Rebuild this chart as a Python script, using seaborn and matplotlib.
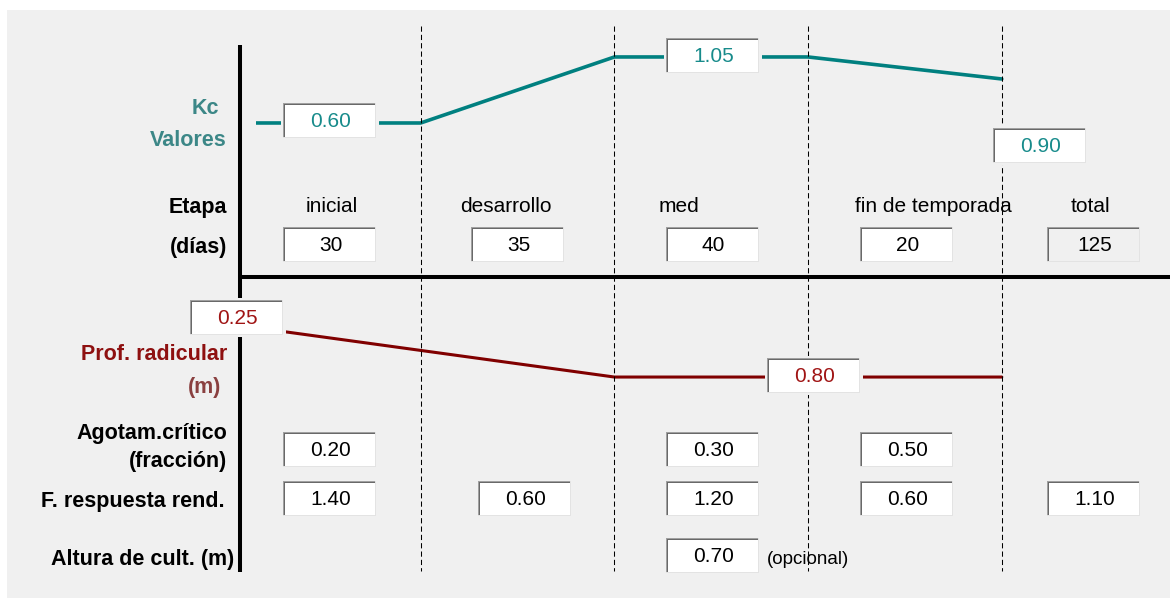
import matplotlib
matplotlib.use("Agg")
import matplotlib.pyplot as plt
from matplotlib.patches import Rectangle
import numpy as np
import pandas as pd
import seaborn as sns

# ---------------- data ----------------
stages = ["inicial", "desarrollo", "med", "fin de temporada"]
stage_days = [30, 35, 40, 20]
total_label = "total"
kc_values = [0.60, 1.05, 0.90]          # Kc ini, Kc med, Kc fin
root_depth = [0.25, 0.80]               # prof. radicular inicial / máxima (m)
depletion = [0.20, None, 0.30, 0.50]    # agotamiento crítico por etapa
ky_stage = [1.40, 0.60, 1.20, 0.60]     # factor de respuesta del rendimiento
ky_total = 1.10
crop_height = 0.70                      # altura de cultivo (m)

# ---------------- layout (pixels) ----------------
W, H = 1170, 598
BG = "#F0F0F0"
TEAL_LINE, TEAL_TXT, TEAL_LBL = "#008080", "#178B8B", "#3C8787"
RED_LINE, RED_TXT, RED_LBL, RED_LBL2 = "#800000", "#A01414", "#8E1010", "#8A4040"

STAGE_X0_PX, STAGE_STEP_PX = 227.0, 193.7       # stage-index -> pixel
KC_ZERO_PX, KC_PX_PER_UNIT = 211.0, 146.7        # Kc value -> pixel row
ROOT_ZERO_PX, ROOT_PX_PER_M = 299.6, 96.8        # root depth -> pixel row

def px_to_stage(px):
    return (px - STAGE_X0_PX) / STAGE_STEP_PX

def px_to_kc(py):
    return (KC_ZERO_PX - py) / KC_PX_PER_UNIT

def px_to_root(py):
    return (py - ROOT_ZERO_PX) / ROOT_PX_PER_M

BOX_W = 93
COL_X = [283, 471, 666, 860, 1047]
KY_COL_X = [283, 478, 666, 860, 1047]

sns.set_style("white")
plt.rcParams["font.family"] = ["Liberation Sans", "DejaVu Sans"]

fig = plt.figure(figsize=(W / 100, H / 100), dpi=100)
fig.patch.set_facecolor("white")

def pixel_axes(z):
    a = fig.add_axes([0, 0, 1, 1])
    a.set_xlim(0, W)
    a.set_ylim(H, 0)
    a.axis("off")
    a.set_zorder(z)
    return a

ax_bg = pixel_axes(0)
ax_fg = pixel_axes(3)

# background panel
ax_bg.add_patch(Rectangle((7, 10), W - 7, H - 10, facecolor=BG, edgecolor="none"))
# thick black axes of the form
ax_bg.plot([240, 240], [45, 572], color="black", lw=2.9, solid_capstyle="butt")
ax_bg.plot([240, W], [277, 277], color="black", lw=2.9, solid_capstyle="butt")

# ---------------- Kc curve axes ----------------
axk = fig.add_axes([256 / W, 0, (W - 256) / W, 1])
axk.set_xlim(px_to_stage(256), px_to_stage(W))
axk.set_ylim(px_to_kc(H), px_to_kc(0))
axk.axis("off")
axk.set_zorder(1)

kc_ini, kc_mid, kc_end = kc_values
kc_df = pd.DataFrame({"etapa": [0, 1, 2, 3, 4],
                      "kc": [kc_ini, kc_ini, kc_mid, kc_mid, kc_end]})
sns.lineplot(data=kc_df, x="etapa", y="kc", ax=axk, color=TEAL_LINE,
             lw=2.6, estimator=None, sort=False)
axk.axis("off")

# ---------------- root depth axes ----------------
axr = fig.add_axes([0, 0, 1, 1])
axr.set_xlim(px_to_stage(0), px_to_stage(W))
axr.set_ylim(px_to_root(H), px_to_root(0))
axr.axis("off")
axr.set_zorder(2)

root_df = pd.DataFrame({"etapa": [0, 2, 4],
                        "prof": [root_depth[0], root_depth[1], root_depth[1]]})
sns.lineplot(data=root_df, x="etapa", y="prof", ax=axr, color=RED_LINE,
             lw=2.2, estimator=None, sort=False)
axr.axis("off")

# stage boundaries (dashed)
for s in range(1, len(stages) + 1):
    axr.plot([s, s], [px_to_root(26), px_to_root(571)], color="black",
             lw=0.75, linestyle=(0, (5, 3)))

# ---------------- boxes and text ----------------
def box(x0, y0, text, color="black", w=BOX_W, h=35, fill="white", fs=15):
    x1, y1 = x0 + w, y0 + h
    ax_fg.add_patch(Rectangle((x0 - 2, y0 - 2), w + 5, h + 4, facecolor=BG, edgecolor="none"))
    ax_fg.add_patch(Rectangle((x0, y0), w, h, facecolor=fill, edgecolor="none"))
    ax_fg.add_patch(Rectangle((x0, y0), w, 1, facecolor="#A0A0A0", edgecolor="none"))
    ax_fg.add_patch(Rectangle((x0, y0), 1, h, facecolor="#A0A0A0", edgecolor="none"))
    ax_fg.add_patch(Rectangle((x0 + 1, y0 + 1), w - 2, 1.2, facecolor="#696969", edgecolor="none"))
    ax_fg.add_patch(Rectangle((x0 + 1, y0 + 1), 1.2, h - 2, facecolor="#696969", edgecolor="none"))
    ax_fg.add_patch(Rectangle((x0, y1 - 1), w, 1, facecolor="#E3E3E3", edgecolor="none"))
    ax_fg.add_patch(Rectangle((x1 - 1, y0), 1, h, facecolor="#E3E3E3", edgecolor="none"))
    ax_fg.text((x0 + x1) / 2 + 1, (y0 + y1) / 2 + 1, text, color=color,
               fontsize=fs, ha="center", va="center")

def label(x, y, text, color="black", ha="right", bold=True, fs=15.5):
    ax_fg.text(x, y, text, color=color, fontsize=fs, ha=ha, va="center",
               fontweight="bold" if bold else "normal")

# Kc
label(205, 108, "Kc", TEAL_LBL, ha="center")
label(227, 141, "Valores", TEAL_LBL)
box(283, 103, f"{kc_ini:.2f}", TEAL_TXT)
box(666, 38, f"{kc_mid:.2f}", TEAL_TXT)
box(993, 128, f"{kc_end:.2f}", TEAL_TXT)

# stages
label(227, 207, "Etapa")
label(227, 247, "(días)")
stage_lbl_x = [332, 506, 679, 933, 1090]
for i, name in enumerate(stages + [total_label]):
    label(stage_lbl_x[i], 207, name, ha="center", bold=False, fs=15)
for i, d in enumerate(stage_days):
    box(COL_X[i], 227, f"{d}")
box(COL_X[4], 227, f"{sum(stage_days)}", fill=BG)

# root depth
label(227, 355, "Prof. radicular", RED_LBL)
label(205, 388, "(m)", RED_LBL2, ha="center")
box(190, 300, f"{root_depth[0]:.2f}", RED_TXT)
box(767, 358, f"{root_depth[1]:.2f}", RED_TXT)

# depletion
label(227, 433, "Agotam.crítico")
label(227, 462, "(fracción)")
for i, p in enumerate(depletion):
    if p is not None:
        box(COL_X[i], 432, f"{p:.2f}")

# yield response
label(225, 502, "F. respuesta rend.")
for i, k in enumerate(ky_stage):
    box(KY_COL_X[i], 481, f"{k:.2f}")
box(KY_COL_X[4], 481, f"{ky_total:.2f}")

# crop height
label(234, 559, "Altura de cult. (m)")
box(666, 538, f"{crop_height:.2f}")
label(767, 560, "(opcional)", ha="left", bold=False, fs=13.5)

fig.savefig("out.png", dpi=100, facecolor=fig.get_facecolor())
